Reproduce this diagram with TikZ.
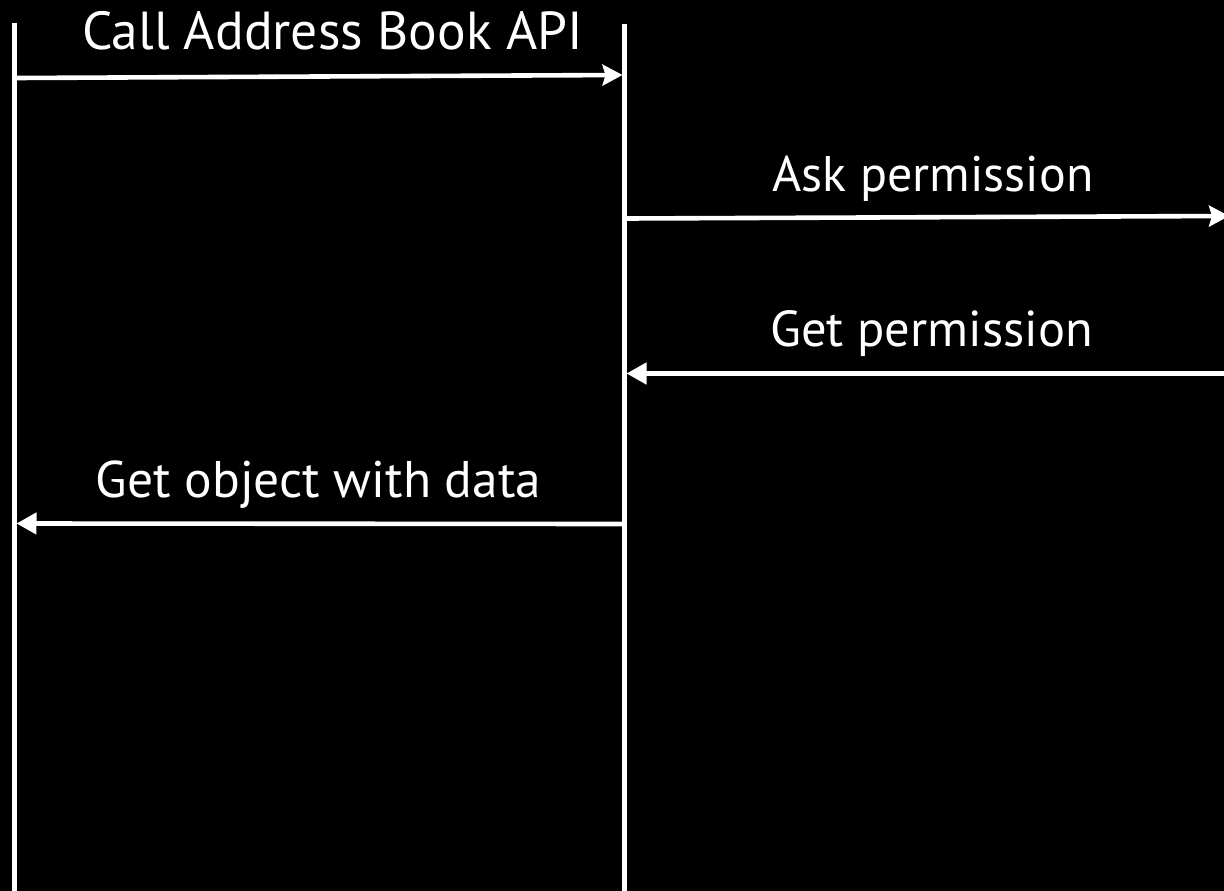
\documentclass[tikz,border=0pt]{standalone}
\usepackage{fontspec}
\setmainfont{PT Sans}
\usetikzlibrary{arrows.meta}
\begin{document}
\begin{tikzpicture}[x=1pt,y=-1pt,
  lifeline/.style={draw=white,line width=4.6pt},
  msgR/.style={draw=white,line width=4.6pt,-{Stealth[length=20pt,width=21pt,inset=3pt]}},
  msgL/.style={draw=white,line width=4.6pt,-{Triangle[length=20pt,width=21pt]}},
  lbl/.style={text=white,anchor=base,inner sep=0pt,font=\fontsize{50}{60}\selectfont}]
\fill[black] (0,0) rectangle (1224,891);
\useasboundingbox (0,0) rectangle (1224,891);
% lifelines
\coordinate (Atop) at (14.5,23);
\coordinate (Abot) at (14.5,895);
\coordinate (Btop) at (624.5,24);
\coordinate (Bbot) at (624.5,895);
\draw[lifeline] (Atop) -- (Abot);
\draw[lifeline] (Btop) -- (Bbot);
% message end points
\coordinate (m1s) at (16.5,78);
\coordinate (m1e) at (622.5,75);
\coordinate (m2s) at (626.5,218.5);
\coordinate (m2e) at (1229,216);
\coordinate (m3s) at (1230,373.5);
\coordinate (m3e) at (626.5,373.5);
\coordinate (m4s) at (622.5,524);
\coordinate (m4e) at (16.5,523.5);
\draw[msgR] (m1s) -- (m1e);
\draw[msgR] (m2s) -- (m2e);
\draw[msgL] (m3s) -- (m3e);
\draw[msgL] (m4s) -- (m4e);
% labels
\node[lbl,font=\fontsize{53.5}{64}\selectfont] (t1) at (332.5,49.5) {Call Address Book API};
\node[lbl] (t2) at (933,191) {Ask permission};
\node[lbl,font=\fontsize{50.5}{60}\selectfont] (t3) at (931.5,346) {Get permission};
\node[lbl,font=\fontsize{51.5}{62}\selectfont] (t4) at (318.5,497) {Get object with data};
\end{tikzpicture}
\end{document}
